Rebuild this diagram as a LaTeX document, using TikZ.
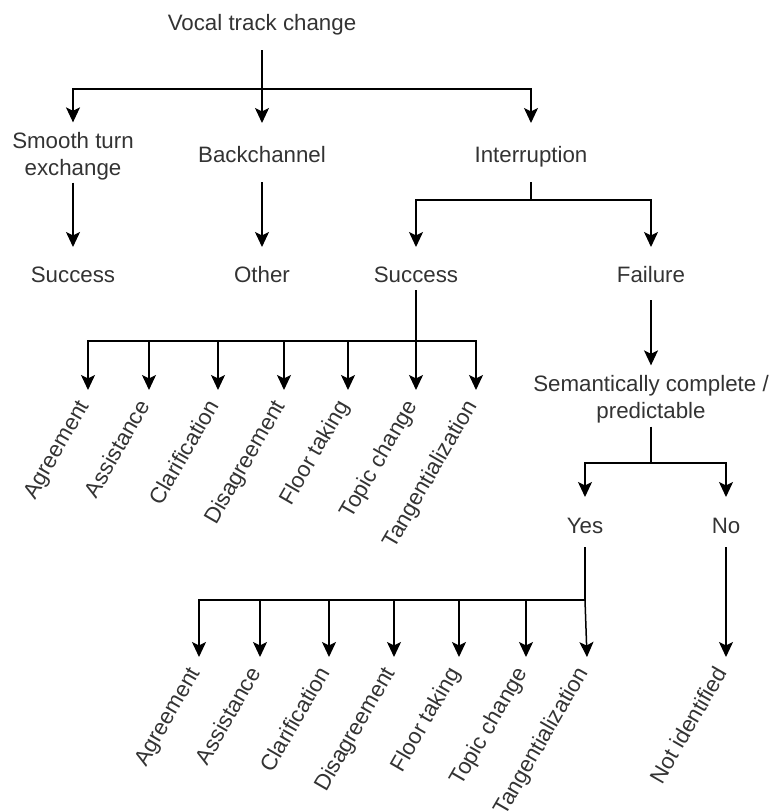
\documentclass[tikz,border=0pt]{standalone}
\usepackage{fontspec}
\setmainfont{Liberation Sans}
\usetikzlibrary{arrows.meta}
\begin{document}
\begin{tikzpicture}[x=1pt,y=-1pt,line width=1.5pt,
  txt/.style={inner sep=0pt, text=black!80, font=\fontsize{22.3}{27}\selectfont},
  lab/.style={txt, rotate=60, anchor=base east},
  arr/.style={-{Stealth[length=15pt,width=14pt,inset=3.5pt]}}]
\useasboundingbox (0,0) rectangle (771,812);

% text nodes
\node[txt, anchor=base] (vocal) at (262,30) {Vocal track change};
\node[txt, align=center] (smooth) at (73,156) {Smooth turn\\exchange};
\node[txt, anchor=base] (backch) at (262,162) {Backchannel};
\node[txt, anchor=base] (interr) at (531,162) {Interruption};
\node[txt, anchor=base] (succ1) at (73,282) {Success};
\node[txt, anchor=base] (other) at (262,282) {Other};
\node[txt, anchor=base] (succ2) at (416,282) {Success};
\node[txt, anchor=base] (fail) at (651,282) {Failure};
\node[txt, align=center] (sem) at (651,399) {Semantically complete /\\predictable};
\node[txt, anchor=base] (yes) at (585,533) {Yes};
\node[txt, anchor=base] (no) at (726,533) {No};

% junctions
\coordinate (j1) at (262,89);
\coordinate (j2) at (531,200);
\coordinate (j3) at (416,341);
\coordinate (j4) at (651,463);
\coordinate (j5) at (585,600);

% level 1
\draw[arr] ([yshift=-20pt]vocal.base) -- ([yshift=39pt]backch.base);
\draw[arr] (j1) -| ([yshift=9pt]smooth.north);
\draw[arr] (j1) -| ([yshift=39pt]interr.base);

% level 2
\draw[arr] ([yshift=-2pt]smooth.south) -- ([yshift=35pt]succ1.base);
\draw[arr] ([yshift=-20pt]backch.base) -- ([yshift=35pt]other.base);
\draw ([yshift=-20pt]interr.base) -- (j2);
\draw[arr] (j2) -| ([yshift=35pt]succ2.base);
\draw[arr] (j2) -| ([yshift=35pt]fail.base);

% success types (upper)
\draw ([yshift=-8pt]succ2.base) -- (j3);
\foreach \x/\n/\t in {88/1/Agreement,149/2/Assistance,218/3/Clarification,284/4/Disagreement,348/5/Floor taking,416/6/Topic change,476/7/Tangentialization}{
  \node[lab] (u\n) at (\x+2,405) {\t};
  \draw[arr] (j3) -| ([shift={(-2pt,15pt)}]u\n.base east);
}

% failure branch
\draw[arr] ([yshift=-18pt]fail.base) -- ([yshift=9pt]sem.north);
\draw ([yshift=-3pt]sem.south) -- (j4);
\draw[arr] (j4) -| ([yshift=36pt]yes.base);
\draw[arr] (j4) -| ([yshift=36pt]no.base);

% yes types (lower)
\draw ([yshift=-14pt]yes.base) -- (j5);
\foreach \x/\n/\t in {199/1/Agreement,260/2/Assistance,329/3/Clarification,394/4/Disagreement,459/5/Floor taking,526/6/Topic change}{
  \node[lab] (b\n) at (\x+2,672) {\t};
  \draw[arr] (j5) -| ([shift={(-2pt,15pt)}]b\n.base east);
}
\node[lab] (b7) at (589,672) {Tangentialization};
\draw[arr] (j5) -- ([shift={(-2pt,15pt)}]b7.base east);

% no branch
\node[lab] (nid) at (728,672) {Not identified};
\draw[arr] ([yshift=-14pt]no.base) -- ([shift={(-2pt,15pt)}]nid.base east);
\end{tikzpicture}
\end{document}
